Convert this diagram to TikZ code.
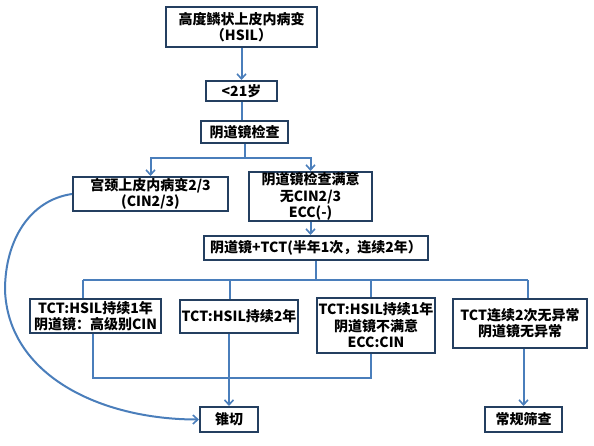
\documentclass[tikz,border=0pt]{standalone}
\usepackage{fontspec}
\setmainfont{Noto Sans CJK SC}
\usetikzlibrary{arrows.meta}
\definecolor{boxc}{HTML}{243F60}
\definecolor{linec}{HTML}{4A7EBB}
\tikzset{
  box/.style={draw=boxc, line width=2pt, fill=white, align=center, inner sep=0pt,
    font=\fontsize{14}{16.5}\selectfont\bfseries},
  conn/.style={draw=linec, line width=2pt},
  arr/.style={conn, -{Straight Barb[length=5pt,width=9pt,line width=1.6pt]}},
}
\begin{document}
\begin{tikzpicture}[x=1pt,y=-1pt]
\useasboundingbox (0,0) rectangle (594,445);
\node[box, minimum width=151pt, minimum height=40pt] (n1) at (241.5,27) {高度鳞状上皮内病变\\（HSIL）};
\node[box, minimum width=71pt, minimum height=20pt] (n2) at (241.5,91) {<21岁};
\node[box, minimum width=87pt, minimum height=22pt] (n3) at (244.5,132) {阴道镜检查};
\node[box, minimum width=155pt, minimum height=34pt] (n4) at (150.5,194) {宫颈上皮内病变2/3\\(CIN2/3)};
\node[box, minimum width=123pt, minimum height=49pt] (n5) at (310.5,196.5) {阴道镜检查满意\\无CIN2/3\\ECC(-)};
\node[box, minimum width=224pt, minimum height=24pt] (n6) at (316,248) {阴道镜+TCT(半年1次，连续2年）};
\node[box, minimum width=131pt, minimum height=34pt] (n7) at (95.5,316) {TCT:HSIL持续1年\\阴道镜：高级别CIN};
\node[box, minimum width=118pt, minimum height=33pt] (n8) at (239,316.5) {TCT:HSIL持续2年};
\node[box, minimum width=118pt, minimum height=55pt] (n9) at (376,325.5) {TCT:HSIL持续1年\\阴道镜不满意\\ECC:CIN};
\node[box, minimum width=134pt, minimum height=49pt] (n10) at (520,323.5) {TCT连续2次无异常\\阴道镜无异常};
\node[box, minimum width=58pt, minimum height=25pt] (n11) at (229,419.5) {锥切};
\node[box, minimum width=77pt, minimum height=25pt] (n12) at (523.5,419.5) {常规筛查};

\coordinate (s1) at (245,158);
\coordinate (d1) at (83,280);
\coordinate (d2) at (230,280);
\coordinate (d3) at (371,280);
\coordinate (d4) at (528,280);
\coordinate (m1) at (93,378);
\coordinate (m2) at (371,378);

\draw[arr] (n1.south) -- (n2.north);
\draw[conn] (n2.south) -- (n2.south |- n3.north);
\draw[conn] (n3.south -| s1) -- (s1);
\draw[arr] (s1) -| (n4.north);
\draw[arr] (s1) -| (n5.north);
\draw[arr] (n5.south) -- (n5.south |- n6.north);
\draw[conn] (n6.south) -- (n6.south |- d1);
\draw[conn] (d1) -- (d4);
\draw[conn] (d1) -- (d1 |- n7.north);
\draw[conn] (d2) -- (d2 |- n8.north);
\draw[conn] (d3) -- (d3 |- n9.north);
\draw[conn] (d4) -- (d4 |- n10.north);
\draw[conn] (m1 |- n7.south) -- (m1) -- (m2) -- (m2 |- n9.south);
\draw[arr] (n11.north |- n8.south) -- (n11.north);
\draw[arr] (n12.north |- n10.south) -- (n12.north);
\draw[arr] (n4.west) .. controls (30,200) and (5,240) .. (5,290)
  .. controls (8,375) and (100,419.5) .. (n11.west);
\end{tikzpicture}
\end{document}
